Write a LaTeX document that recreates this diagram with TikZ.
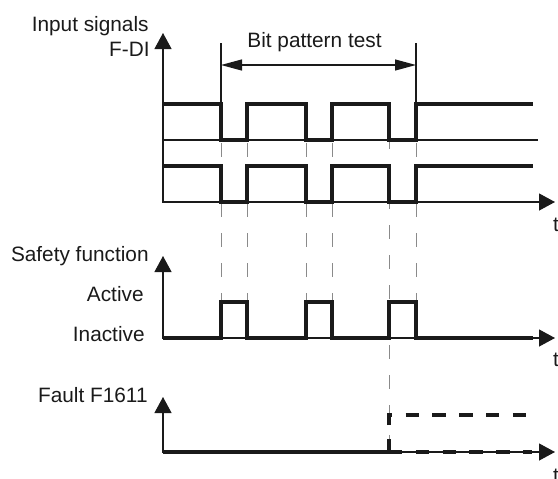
\documentclass[tikz,border=0pt]{standalone}
\usepackage{fontspec}
\setmainfont{Liberation Sans}
\usepackage{xcolor}
\definecolor{SigBlack}{HTML}{1A1A1A}
\definecolor{GuideGray}{HTML}{8A8A8A}
\usetikzlibrary{arrows.meta,positioning}

\begin{document}
\begin{tikzpicture}[x=0.5pt,y=-0.5pt, every node/.style={font=\fontsize{10.4}{12}\selectfont, text=SigBlack, inner sep=0pt}, axisline/.style={line width=0.6pt, draw=SigBlack, {Triangle[length=8pt,width=8.5pt]}-{Triangle[length=8pt,width=8.5pt]}}, thinline/.style={line width=0.6pt, draw=SigBlack}, signal/.style={line width=1.6pt, draw=SigBlack, line join=miter}, guide/.style={line width=0.45pt, draw=GuideGray, dash pattern=on 7pt off 8pt}, faultdash/.style={line width=1.6pt, draw=SigBlack, dash pattern=on 6.7pt off 6.7pt}]
        \useasboundingbox (0,0) rectangle (558,478);
        % dashed guides from the input edges
        \foreach \gx in {221,247,306,332,416} \draw[guide] (\gx,143) -- (\gx,302);
        \draw[guide] (389,135) -- (389,452);
        % input signals F-DI
        \coordinate (inorig) at (163,202);
        \draw[axisline] (163,33) -- (inorig) -- (555,202);
        \draw[thinline] (163,140) -- (538,140);
        \draw[signal] (163,104) -- (221,104) -- (221,140) -- (247,140) -- (247,104) -- (306,104) -- (306,140) -- (332,140) -- (332,104) -- (389,104) -- (389,140) -- (416,140) -- (416,104) -- (533,104);
        \draw[signal] (163,166) -- (221,166) -- (221,202) -- (247,202) -- (247,166) -- (306,166) -- (306,202) -- (332,202) -- (332,166) -- (389,166) -- (389,202) -- (416,202) -- (416,166) -- (533,166);
        \node[anchor=base east] (lblinput) at (149,31) {Input signals};
        \node[anchor=base east] (lblfdi) at (150,56) {F-DI};
        \node[anchor=base] (tin) at (556,231) {t};
        % bit pattern test
        \coordinate (testbeg) at (221,65);
        \coordinate (testend) at (416,65);
        \draw[thinline] (221,43) -- (221,103);
        \draw[thinline] (416,43) -- (416,103);
        \draw[thinline, {Triangle[length=10.5pt,width=5.5pt]}-{Triangle[length=10.5pt,width=5.5pt]}] (testbeg) -- (testend);
        \node[anchor=base] (lbltest) at (314.5,47) {Bit pattern test};
        % safety function
        \coordinate (sforig) at (163,338);
        \draw[axisline] (163,256) -- (sforig) -- (555,338);
        \draw[signal] (163,338) -- (221,338) -- (221,302) -- (247,302) -- (247,338) -- (306,338) -- (306,302) -- (332,302) -- (332,338) -- (389,338) -- (389,302) -- (416,302) -- (416,338) -- (533,338);
        \node[anchor=base east] (lblsafety) at (149,261) {Safety function};
        \node[anchor=base east] (lblactive) at (144,301) {Active};
        \node[anchor=base east] (lblinactive) at (145,341) {Inactive};
        \node[anchor=base] (tsf) at (556,366) {t};
        % fault F1611
        \coordinate (ftorig) at (163,452);
        \draw[axisline] (163,397) -- (ftorig) -- (555,452);
        \draw[signal] (163,452) -- (389,452);
        \draw[faultdash] (389,452) -- (389,415) -- (527,415);
        \draw[faultdash] (389,452) -- (532,452);
        \node[anchor=base east] (lblfault) at (148,402) {Fault F1611};
        \node[anchor=base] (tft) at (556,482) {t};
    \end{tikzpicture}
\end{document}
